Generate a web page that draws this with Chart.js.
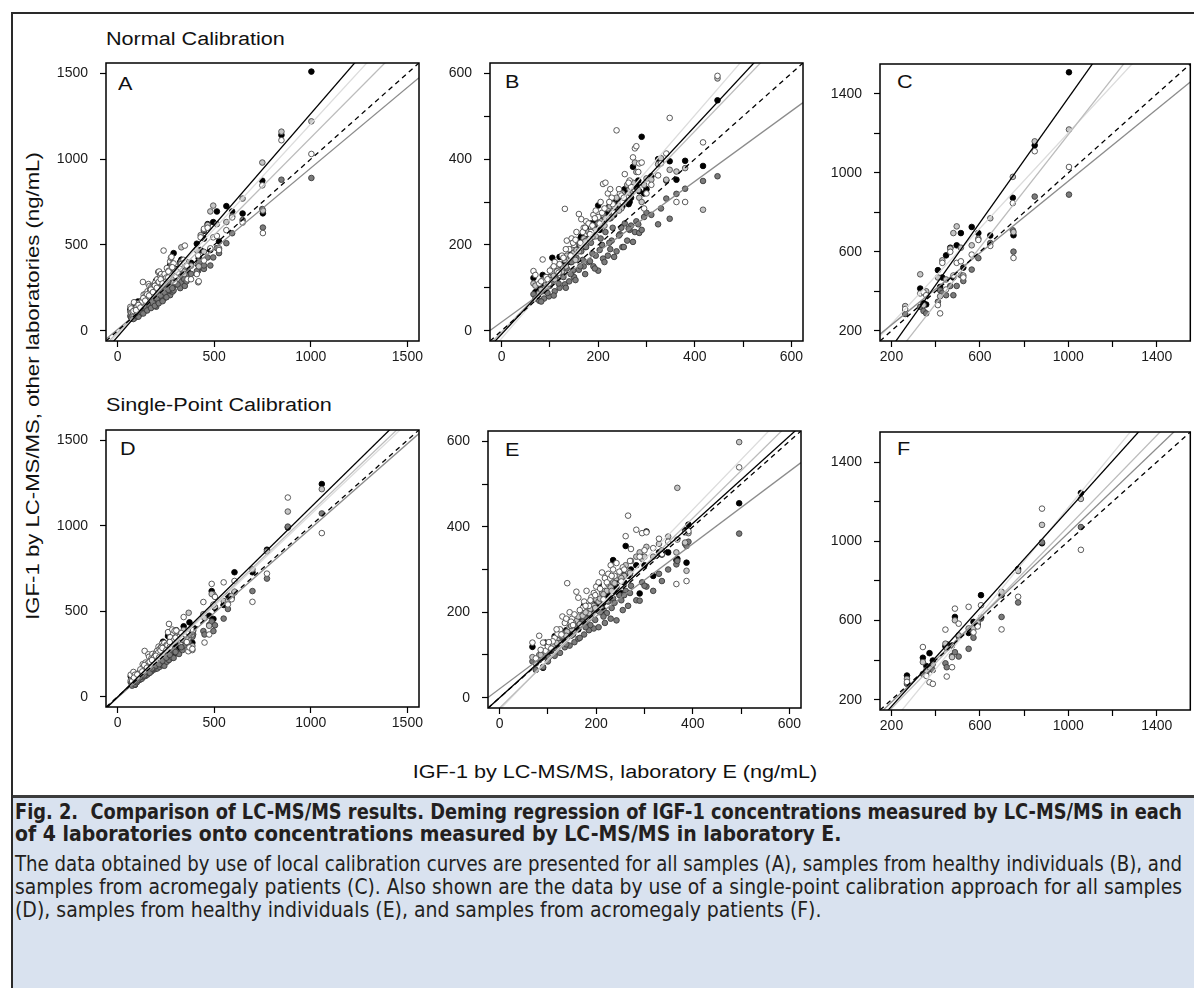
<!DOCTYPE html>
<html>
<head>
<meta charset="utf-8">
<script src="https://cdn.jsdelivr.net/npm/chart.js@4.4.1/dist/chart.umd.min.js"></script>
<style>
html,body{margin:0;padding:0;background:#fff;overflow:hidden}
#fig{position:relative;width:1194px;height:988px;overflow:hidden;background:#fff;font-family:"Liberation Sans",Arial,sans-serif;color:#111}
.ftop{position:absolute;left:11px;top:12px;width:1200px;height:2px;background:#2a2a2a}
.fleft{position:absolute;left:11px;top:12px;width:2px;height:990px;background:#2a2a2a;z-index:3}
.t{position:absolute;font-size:18px;line-height:18px;white-space:nowrap;transform:scaleX(1.2);transform-origin:0 0}
.xt{position:absolute;left:315px;top:763px;width:600px;text-align:center;font-size:18px;line-height:18px;white-space:nowrap;transform:scaleX(1.2);transform-origin:50% 50%}
.yt{position:absolute;left:-267px;top:375px;width:600px;height:22px;text-align:center;font-size:18px;line-height:22px;white-space:nowrap;transform:rotate(-90deg) scaleX(1.23);transform-origin:50% 50%}
.cap{position:absolute;left:13px;top:795px;width:1190px;height:200px;background:#d9e2ef;border-top:3px solid #3c3c3c}
.cl{position:absolute;left:15px;font-family:"Liberation Sans Narrow","Arial Narrow","DejaVu Sans Condensed",sans-serif;font-size:21px;line-height:22px;white-space:nowrap;color:#231f20;transform-origin:0 0}
.cl.b{font-weight:bold}
canvas{position:absolute}
</style>
</head>
<body>
<div id="fig">
  <div class="ftop"></div>
  <div class="fleft"></div>
  <div class="t" style="left:106px;top:30px">Normal Calibration</div>
  <div class="t" style="left:106px;top:396px">Single-Point Calibration</div>
  <div class="t" style="left:118px;top:75px">A</div>
  <div class="t" style="left:505px;top:73px">B</div>
  <div class="t" style="left:897px;top:73px">C</div>
  <div class="t" style="left:120px;top:440px">D</div>
  <div class="t" style="left:505px;top:441px">E</div>
  <div class="t" style="left:897px;top:440px">F</div>
  <div class="yt">IGF-1 by LC-MS/MS, other laboratories (ng/mL)</div>
  <div class="xt">IGF-1 by LC-MS/MS, laboratory E (ng/mL)</div>
  <div class="cap"></div>
  <div class="cl b" data-j="1" style="top:801px">Fig. 2.&nbsp; Comparison of LC-MS/MS results. Deming regression of IGF-1 concentrations measured by LC-MS/MS in each</div>
  <div class="cl b" style="top:823px">of 4 laboratories onto concentrations measured by LC-MS/MS in laboratory E.</div>
  <div class="cl" data-j="1" style="top:853px">The data obtained by use of local calibration curves are presented for all samples (A), samples from healthy individuals (B), and</div>
  <div class="cl" data-j="1" style="top:876px">samples from acromegaly patients (C). Also shown are the data by use of a single-point calibration approach for all samples</div>
  <div class="cl" style="top:899px">(D), samples from healthy individuals (E), and samples from acromegaly patients (F).</div>
</div>
<script>
// ---------- DATA ----------
// lab order in every array group: black, dark gray, light gray, white
// Healthy individuals, normal calibration (panel B); x = laboratory E
const healthyNormX = [66,70,78,85,88,92,98,105,110,115,120,125,131,135,140,145,150,155,160,165,170,175,180,185,190,195,200,205,210,215,220,225,230,238,245,250,255,260,265,272,276,279,285,290,295,324,330,341,348,362,380,417,447,100,128,148,168,188,208,228,248,268,300,
  82,95,108,118,133,143,153,163,173,183,193,203,213,223,233,243,253,263,283,310];
const healthyNormBlack = [123,90,95,130,105,112,120,170,130,145,172,150,160,158,175,180,165,195,200,220,205,238,215,250,230,245,292,260,248,280,270,262,300,285,310,290,330,325,300,382,336,340,325,452,320,400,395,350,395,352,396,384,537,125,155,178,198,225,255,275,295,310,330,
  100,118,128,150,172,160,190,215,195,228,255,235,262,290,270,300,318,295,350,360];
const healthyNormDgray = [85,75,70,92,75,98,80,112,92,120,100,135,108,145,115,160,125,170,142,185,150,195,160,205,150,175,140,215,168,230,175,190,240,185,225,195,250,210,235,207,230,255,228,235,265,248,285,308,261,319,331,349,360,105,125,140,165,180,200,210,240,245,275,
  68,88,82,110,100,132,118,150,132,162,145,188,160,205,172,222,195,238,248,270];
const healthyNormLgray = [110,105,88,118,98,108,125,135,120,150,140,138,165,175,168,190,182,188,185,200,215,210,230,225,240,220,250,255,270,262,285,290,275,310,295,320,305,340,330,345,392,370,310,300,340,388,402,352,375,371,379,282,588,118,148,172,205,218,248,265,285,320,355,
  95,102,128,140,150,172,165,200,208,215,235,248,245,262,290,280,300,318,328,352];
const healthyNormWhite = [139,130,110,166,118,125,110,145,160,138,155,175,284,210,190,215,200,230,272,260,240,255,250,230,270,280,265,300,342,345,320,330,295,467,320,300,365,310,350,404,425,430,390,392,285,362,390,413,496,300,300,439,594,140,170,205,230,245,275,310,315,335,320,
  115,120,150,135,190,175,212,205,240,225,262,250,285,300,275,330,310,345,370,340];

// Acromegaly patients, normal calibration (panel C)
const acroNormX = [262,330,345,357,410,420,430,447,466,480,495,514,525,563,593,647,749,752,848,1003];
const acroNormBlack = [300,414,340,333,507,422,470,582,621,470,633,695,520,726,695,683,874,684,1140,1510];
const acroNormDgray = [285,321,300,288,347,405,392,380,427,380,427,481,452,510,568,645,709,601,880,890];
const acroNormLgray = [325,486,330,400,470,375,557,460,616,695,729,621,480,633,667,770,980,700,1160,1220];
const acroNormWhite = [310,389,395,380,330,288,544,409,600,480,544,552,470,586,660,630,847,569,1110,1030];

// Healthy individuals, single-point calibration (panel E)
const healthySpX = [68,75,82,90,95,100,107,114,120,125,130,135,140,145,150,155,159,163,168,175,180,185,190,195,200,205,212,218,225,230,235,242,248,255,261,266,272,283,290,295,304,318,336,349,366,368,384,387,391,496,110,148,172,188,208,222,238,258,
  85,102,118,128,138,152,166,178,198,215,232,252,270,300,330];
const healthySpBlack = [119,85,90,70,129,95,110,144,118,130,125,140,150,145,155,165,170,160,180,216,190,200,210,205,225,265,230,245,240,255,322,260,275,290,355,285,300,310,244,330,389,285,335,340,322,325,392,316,405,455,118,158,182,195,218,235,250,270,
  95,112,135,128,158,150,185,175,215,205,260,245,290,310,340];
const healthySpDgray = [85,65,88,72,100,85,112,98,125,105,138,118,150,122,160,130,168,138,175,148,185,158,195,162,205,165,215,175,225,185,232,181,240,205,250,215,262,228,227,270,260,250,273,300,312,320,360,355,365,384,118,145,178,170,200,198,222,240,
  92,95,115,130,125,148,140,165,182,190,210,228,245,262,290];
const healthySpLgray = [95,80,100,95,105,110,120,125,135,128,145,150,155,165,160,175,180,190,172,195,205,198,220,215,230,225,245,250,265,258,270,280,285,300,310,295,320,330,340,325,353,330,345,377,340,491,363,297,385,598,122,168,192,208,232,250,268,285,
  100,118,128,150,145,175,172,200,210,242,250,280,292,330,360];
const healthySpWhite = [129,92,145,129,110,120,115,140,150,160,190,175,268,200,185,195,248,234,205,225,250,215,235,245,260,270,293,280,290,310,300,315,295,305,378,426,348,393,330,385,387,350,336,365,266,370,387,273,390,539,132,178,210,228,255,270,285,300,
  112,130,160,148,185,170,205,215,240,230,285,272,320,345,372];

// Acromegaly patients, single-point calibration (panel F)
const acroSpX = [270,342,358,372,387,444,450,474,487,504,549,571,590,605,698,773,881,1057];
const acroSpBlack = [322,412,370,435,398,470,480,474,618,520,537,593,580,728,728,860,990,1244];
const acroSpDgray = [280,330,340,356,350,384,364,420,440,418,457,513,575,610,618,691,995,1072];
const acroSpLgray = [305,390,350,364,380,483,460,415,601,525,560,560,590,615,745,850,1083,1214];
const acroSpWhite = [290,466,320,288,280,554,317,364,660,584,669,540,570,677,555,720,1165,957];

// Deming regression lines (black, dark gray, light gray, white)
const slopeA = [1.30, 0.94, 1.135, 1.225];   const interceptA = [-35, 8, -10, -20];
const slopeB = [1.21, 0.82, 1.17, 1.30];     const interceptB = [-8, 20, -3, -18];
const slopeC = [1.58, 0.91, 1.43, 1.21];     const interceptC = [-200, 48, -236, -7];
const slopeD = [1.11, 0.99, 1.08, 1.07];     const interceptD = [-2, -5, 0, -4];
const slopeE = [1.02, 0.848, 1.11, 1.17];    const interceptE = [0, 21, -24, -28];
const slopeF = [1.24, 1.068, 1.149, 1.36];   const interceptF = [-82, -26, -74, -189];

// axis limits and ticks
const limAll = [-60, 1560];
const limHealthy = [-24, 624];
const limAcro = [148, 1552];
const ticksAll = [0, 500, 1000, 1500];
const labelsAll = [0, 500, 1000, 1500];
const ticksHealthy = [0, 100, 200, 300, 400, 500, 600];
const labelsHealthy = [0, 200, 400, 600];
const ticksAcro = [200, 400, 600, 800, 1000, 1200, 1400];
const labelsAcro = [200, 600, 1000, 1400];

// ---------- DRAWING ----------
const labs = ['black', 'dgray', 'lgray', 'white'];
const pointFill = {black:'#000000', dgray:'#7b7b7b', lgray:'#c6c6c6', white:'#ffffff'};
const pointEdge = {black:'#000000', dgray:'#3a3a3a', lgray:'#4a4a4a', white:'#4a4a4a'};
const lineColor = {black:'#000000', dgray:'#8c8c8c', lgray:'#bcbcbc', white:'#dcdcdc'};
const FONT = "'Liberation Sans', Arial, sans-serif";

function pts(xs, ys) { return xs.map((x, i) => ({x: x, y: ys[i]})); }

const boxPlugin = {
  id: 'box',
  afterDatasetsDraw(chart) {
    const a = chart.chartArea, ctx = chart.ctx;
    ctx.save();
    ctx.strokeStyle = '#000';
    ctx.lineWidth = 1.5;
    ctx.strokeRect(a.left, a.top, a.right - a.left, a.bottom - a.top);
    ctx.restore();
  }
};

const YW = 60, PT = 22, XH = 32;

function panel(box, lim, tv, tl, series, slopes, intercepts, pr) {
  const cv = document.createElement('canvas');
  const w = YW + (box.R - box.L) + pr;
  const h = PT + (box.B - box.T) + XH;
  cv.width = w; cv.height = h;
  cv.style.left = (box.L - YW) + 'px';
  cv.style.top = (box.T - PT) + 'px';
  cv.style.width = w + 'px'; cv.style.height = h + 'px';
  document.getElementById('fig').appendChild(cv);

  const datasets = [];
  datasets.push({data: [{x: lim[0], y: lim[0]}, {x: lim[1], y: lim[1]}], showLine: true, pointRadius: 0,
    borderColor: '#000', borderWidth: 1.3, borderDash: [5, 4], order: 0});
  labs.forEach((lab, i) => {
    datasets.push({data: [{x: lim[0], y: intercepts[i] + slopes[i] * lim[0]}, {x: lim[1], y: intercepts[i] + slopes[i] * lim[1]}],
      showLine: true, pointRadius: 0, borderColor: lineColor[lab], borderWidth: 1.3, order: lab === 'black' ? 0 : (lab === 'dgray' ? 1 : 2)});
  });
  labs.forEach((lab, i) => {
    datasets.push({data: series[i], showLine: false, pointRadius: 2.8, pointHoverRadius: 2.8,
      pointBackgroundColor: pointFill[lab], pointBorderColor: pointEdge[lab], pointBorderWidth: 0.9,
      order: 10 - i});
  });

  const axis = (padding, isX) => ({
    type: 'linear', min: lim[0], max: lim[1],
    afterFit: s => { if (isX) s.height = XH; else s.width = YW; },
    afterBuildTicks: ax => { ax.ticks = tv.map(v => ({value: v})); },
    ticks: {callback: v => tl.includes(v) ? String(v) : '', autoSkip: false, maxRotation: 0, minRotation: 0,
      padding: padding, color: '#1a1a1a', font: {family: FONT, size: 14}},
    grid: {display: true, drawOnChartArea: false, drawTicks: true, tickLength: 6, tickColor: '#000', tickWidth: 1.2},
    border: {display: false}
  });

  new Chart(cv, {
    type: 'scatter',
    data: {datasets: datasets},
    options: {
      responsive: false, animation: false, events: [],
      layout: {padding: {left: 0, top: PT, right: pr, bottom: 0}},
      plugins: {legend: {display: false}, tooltip: {enabled: false}},
      scales: {x: axis(2, true), y: axis(12, false)}
    },
    plugins: [boxPlugin]
  });
}

const seriesB = [pts(healthyNormX, healthyNormBlack), pts(healthyNormX, healthyNormDgray), pts(healthyNormX, healthyNormLgray), pts(healthyNormX, healthyNormWhite)];
const seriesC = [pts(acroNormX, acroNormBlack), pts(acroNormX, acroNormDgray), pts(acroNormX, acroNormLgray), pts(acroNormX, acroNormWhite)];
const seriesE = [pts(healthySpX, healthySpBlack), pts(healthySpX, healthySpDgray), pts(healthySpX, healthySpLgray), pts(healthySpX, healthySpWhite)];
const seriesF = [pts(acroSpX, acroSpBlack), pts(acroSpX, acroSpDgray), pts(acroSpX, acroSpLgray), pts(acroSpX, acroSpWhite)];
const seriesA = seriesB.map((s, i) => s.concat(seriesC[i]));
const seriesD = seriesE.map((s, i) => s.concat(seriesF[i]));

panel({L:106, T:63, R:419, B:341}, limAll, ticksAll, labelsAll, seriesA, slopeA, interceptA, 10);
panel({L:490, T:63, R:803, B:341}, limHealthy, ticksHealthy, labelsHealthy, seriesB, slopeB, interceptB, 10);
panel({L:880, T:64, R:1192, B:341}, limAcro, ticksAcro, labelsAcro, seriesC, slopeC, interceptC, 2);
panel({L:106, T:430, R:419, B:707}, limAll, ticksAll, labelsAll, seriesD, slopeD, interceptD, 10);
panel({L:488, T:431, R:801, B:708}, limHealthy, ticksHealthy, labelsHealthy, seriesE, slopeE, interceptE, 10);
panel({L:880, T:432, R:1192, B:710}, limAcro, ticksAcro, labelsAcro, seriesF, slopeF, interceptF, 2);

// caption justification
const TARGET = 1167;
document.querySelectorAll('.cl').forEach(el => {
  const w = el.getBoundingClientRect().width;
  if (el.dataset.j) {
    if (w < TARGET) {
      const n = (el.textContent.match(/[ \u00a0]/g) || []).length;
      el.style.wordSpacing = ((TARGET - w) / n) + 'px';
    } else {
      el.style.transform = 'scaleX(' + (TARGET / w) + ')';
    }
  } else if (w > TARGET) {
    el.style.transform = 'scaleX(' + (TARGET / w) + ')';
  }
});
</script>
</body>
</html>
